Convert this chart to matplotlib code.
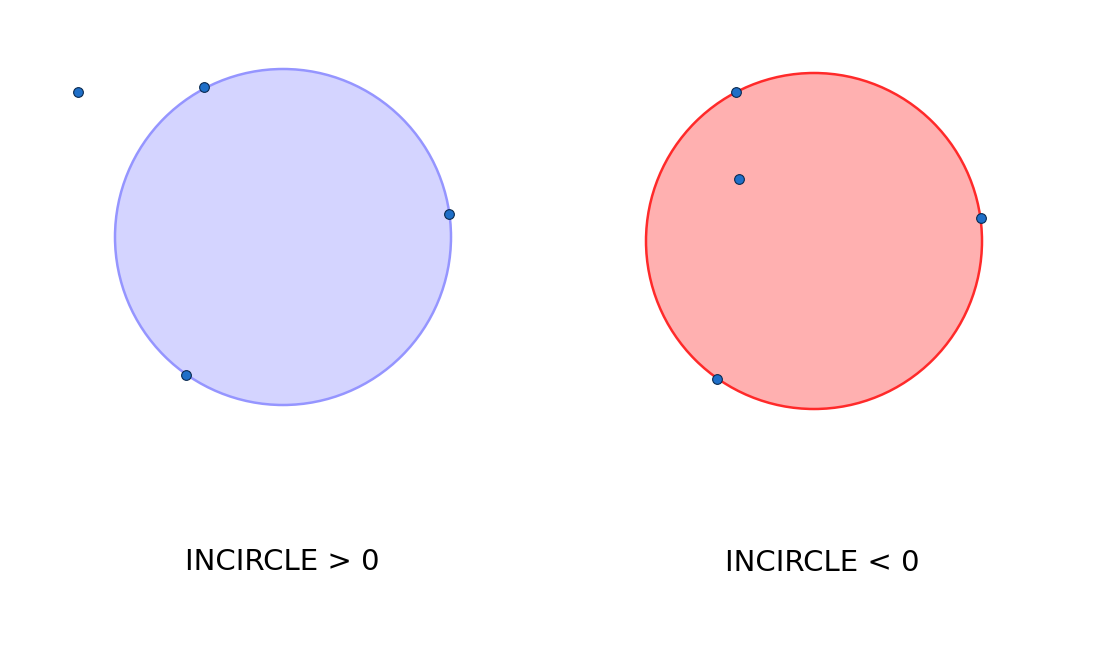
import matplotlib
matplotlib.use('Agg')
import matplotlib.pyplot as plt
from matplotlib.patches import Circle

# circles: center x, center y, radius (pixel-like units, y down)
left_circle = (283, 237, 168)
right_circle = (814, 241, 168)
left_pts_x = [78, 204, 449, 186]
left_pts_y = [92, 87, 214, 375]
right_pts_x = [736, 739, 981, 717]
right_pts_y = [92, 179, 218, 379]
labels = ['INCIRCLE > 0', 'INCIRCLE < 0']
label_x = [282, 822]
label_y = [562, 563]

fig = plt.figure(figsize=(11.16, 6.54), dpi=100)
ax = fig.add_axes([0, 0, 1, 1])
ax.set_xlim(0, 1116)
ax.set_ylim(654, 0)
ax.set_aspect('equal')
ax.axis('off')

cx, cy, r = left_circle
ax.add_patch(Circle((cx, cy), r, facecolor='#d4d4ff', edgecolor='#9595ff', lw=1.8))
cx, cy, r = right_circle
ax.add_patch(Circle((cx, cy), r, facecolor='#ffb0b0', edgecolor='#ff2a2a', lw=1.8))

for xs, ys in [(left_pts_x, left_pts_y), (right_pts_x, right_pts_y)]:
    ax.plot(xs, ys, 'o', ms=7, mfc='#1f6fc8', mec='#0a2a50', mew=0.8, ls='none')

for t, x, y in zip(labels, label_x, label_y):
    ax.text(x, y, t, ha='center', va='center', fontsize=21)

fig.savefig('out.png', dpi=100)
